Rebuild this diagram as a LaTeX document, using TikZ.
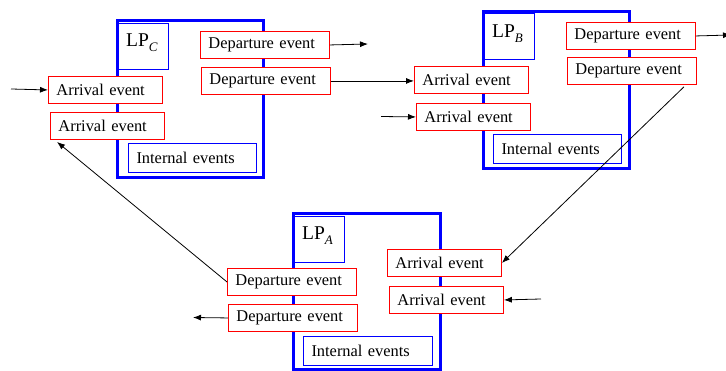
\documentclass[tikz,border=0pt]{standalone}
\usepackage{fontspec}
\setmainfont{Liberation Serif}
\usetikzlibrary{arrows.meta}
\newcommand\evfont{\fontsize{16.4}{20}\selectfont}
\newcommand\lpfont{\fontsize{19.5}{22}\selectfont}
\newcommand\lpsub[1]{\raisebox{-0.22em}{\fontsize{13}{13}\selectfont\itshape #1}}
\definecolor{lpblue}{RGB}{0,0,255}
\definecolor{evred}{RGB}{255,0,0}

\begin{document}
\begin{tikzpicture}[x=1pt,y=-1pt,
  lpbox/.style={draw=lpblue, line width=3pt, inner sep=0pt, anchor=north west,
                minimum width=146pt, minimum height=157pt},
  tagbox/.style={draw=lpblue, line width=0.8pt, inner sep=0pt, anchor=north west,
                 minimum width=50pt, minimum height=46pt},
  tagtext/.style={inner sep=0pt, anchor=base west, font=\lpfont},
  intbox/.style={draw=lpblue, line width=1pt, fill=white, inner xsep=8pt, inner ysep=0pt,
                 minimum height=29pt, text width=112pt, align=left, anchor=north west, font=\evfont},
  dep/.style={draw=evred, line width=0.9pt, fill=white, inner xsep=8pt, inner ysep=0pt,
              minimum height=27pt, text width=113pt, align=left, anchor=north west, font=\evfont},
  arr/.style={dep, text width=98pt},
  flow/.style={draw=black, line width=0.8pt, -{Latex[length=8pt,width=6pt]}},
  link/.style={draw=black, line width=0.8pt}]
\useasboundingbox (0,0) rectangle (726,371);

% logical process C
\node[lpbox] (lpC) at (115.5,19.5) {};
\node[tagbox] (tagC) at (118,23) {};
\node[tagtext] (nameC) at (126,47) {LP\lpsub{C}};
\node[intbox] (intC) at (128,143) {Internal events};
\node[dep] (depC1) at (200,31) {Departure event};
\node[dep] (depC2) at (201,67) {Departure event};
\node[arr] (arrC1) at (48,76) {Arrival event};
\node[arr] (arrC2) at (50,112) {Arrival event};

% logical process B
\node[lpbox] (lpB) at (481.5,10.5) {};
\node[tagbox] (tagB) at (484,13) {};
\node[tagtext] (nameB) at (492,38) {LP\lpsub{B}};
\node[intbox] (intB) at (493,134) {Internal events};
\node[dep] (depB1) at (566,22) {Departure event};
\node[dep] (depB2) at (567,57) {Departure event};
\node[arr] (arrB1) at (414,66) {Arrival event};
\node[arr] (arrB2) at (416,103) {Arrival event};

% logical process A
\node[lpbox, minimum width=147pt, minimum height=156pt] (lpA) at (291.5,212.5) {};
\node[tagbox] (tagA) at (294,216) {};
\node[tagtext] (nameA) at (302,240) {LP\lpsub{A}};
\node[intbox, text width=113pt] (intA) at (303,336) {Internal events};
\node[dep] (depA1) at (227,268) {Departure event};
\node[dep] (depA2) at (228,304) {Departure event};
\node[arr] (arrA1) at (387,249) {Arrival event};
\node[arr] (arrA2) at (389,286) {Arrival event};

% free ends of the external links
\coordinate (inC) at (11,89);
\coordinate (outC) at (368,44);
\coordinate (inB) at (381,116.5);
\coordinate (outB) at (731,35);
\coordinate (inA) at (541,299);
\coordinate (outA) at (193,317.5);

% message flow
\draw[flow] (inC) -- (arrC1.west);
\draw[flow] (depC1.east) -- (outC);
\draw[flow] (depC2.east) -- (arrB1.west |- depC2.east);
\draw[flow] (inB) -- (arrB2.west);
\draw[flow] (depB1.east) -- (outB);
\draw[flow] ([xshift=-13pt,yshift=-2pt]depB2.south east) -- (arrA1.east);
\draw[flow] (inA) -- (arrA2.east);
\draw[flow] (depA2.west) -- (outA);
\draw[flow] (depA1.west) -- ([xshift=7pt,yshift=-2pt]arrC2.south west);
\end{tikzpicture}
\end{document}
